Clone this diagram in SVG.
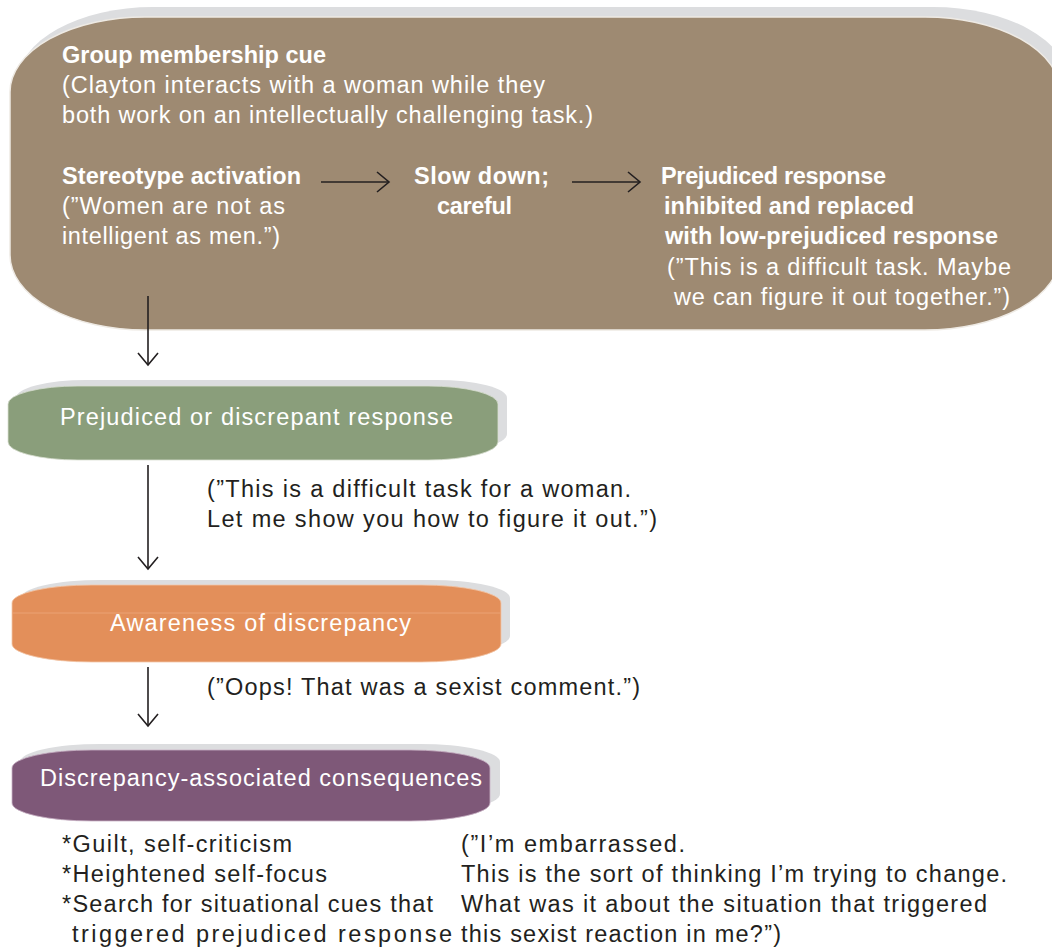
<svg xmlns="http://www.w3.org/2000/svg" width="1052" height="947" viewBox="0 0 1052 947">
<defs>
<marker id="arr" markerUnits="userSpaceOnUse" markerWidth="16" markerHeight="24" refX="13" refY="11" orient="auto" viewBox="0 0 16 24">
<path d="M1,1 L13,11 L1,21" fill="none" stroke="#231f20" stroke-width="1.6"/>
</marker>
<style>
.sh{fill:#dcdddf}
.t{font-family:"Liberation Sans",Arial,sans-serif;font-size:23.5px}
.w{fill:#ffffff}
.k{fill:#231f20}
.b{font-weight:bold}
.c{stroke:#231f20;stroke-width:1.6;fill:none;marker-end:url(#arr)}
</style>
</defs>
<rect width="1052" height="947" fill="#ffffff"/>

<g id="cue-box">
<rect class="sh" x="18" y="7" width="1050" height="313" rx="135" ry="75"/>
<rect x="10" y="17" width="1050" height="313" rx="135" ry="75" fill="#9e8a72" stroke="#eeeae4" stroke-width="1.5"/>
<text class="t w b" x="62" y="63" textLength="264" lengthAdjust="spacing">Group membership cue</text>
<text class="t w" x="62" y="93" textLength="483" lengthAdjust="spacing">(Clayton interacts with a woman while they</text>
<text class="t w" x="62" y="123" textLength="531" lengthAdjust="spacing">both work on an intellectually challenging task.)</text>
</g>

<g id="stereotype">
<text class="t w b" x="62" y="184" textLength="239" lengthAdjust="spacing">Stereotype activation</text>
<text class="t w" x="62" y="214" textLength="223" lengthAdjust="spacing">(”Women are not as</text>
<text class="t w" x="62" y="244" textLength="218" lengthAdjust="spacing">intelligent as men.”)</text>
</g>

<g id="slow-down">
<text class="t w b" x="414" y="184" textLength="135" lengthAdjust="spacing">Slow down;</text>
<text class="t w b" x="437" y="214" textLength="75" lengthAdjust="spacing">careful</text>
</g>

<g id="low-prejudiced">
<text class="t w b" x="661" y="184" textLength="225" lengthAdjust="spacing">Prejudiced response</text>
<text class="t w b" x="664" y="214" textLength="250" lengthAdjust="spacing">inhibited and replaced</text>
<text class="t w b" x="665" y="244" textLength="333" lengthAdjust="spacing">with low-prejudiced response</text>
<text class="t w" x="667" y="275" textLength="344" lengthAdjust="spacing">(”This is a difficult task. Maybe</text>
<text class="t w" x="674" y="305" textLength="336" lengthAdjust="spacing">we can figure it out together.”)</text>
</g>

<g id="discrepant-response">
<rect class="sh" x="16" y="380" width="491" height="72" rx="70" ry="18"/>
<rect x="8" y="386" width="490" height="74" rx="70" ry="18" fill="#8a9e7b" stroke="#d9e0d2" stroke-width="0.8"/>
<text class="t w" x="60" y="425" textLength="393" lengthAdjust="spacing">Prejudiced or discrepant response</text>
</g>
<g id="discrepant-quote">
<text class="t k" x="207" y="497" textLength="424" lengthAdjust="spacing">(”This is a difficult task for a woman.</text>
<text class="t k" x="207" y="527" textLength="450" lengthAdjust="spacing">Let me show you how to figure it out.”)</text>
</g>

<g id="awareness">
<rect class="sh" x="21" y="580" width="489" height="74" rx="80" ry="18"/>
<rect x="12" y="585" width="489" height="77" rx="80" ry="18" fill="#e38f5a" stroke="#f3c7a8" stroke-width="0.8"/>
<line x1="12" y1="613" x2="501" y2="613" stroke="#eea77c" stroke-width="0.8"/>
<text class="t w" x="110" y="631" textLength="301" lengthAdjust="spacing">Awareness of discrepancy</text>
</g>
<g id="awareness-quote">
<text class="t k" x="207" y="695" textLength="433" lengthAdjust="spacing">(”Oops! That was a sexist comment.”)</text>
</g>

<g id="consequences">
<rect class="sh" x="20" y="744" width="480" height="68" rx="80" ry="18"/>
<rect x="12" y="750" width="478" height="71" rx="80" ry="18" fill="#7e5878" stroke="#c9b3c5" stroke-width="0.8"/>
<text class="t w" x="40" y="786" textLength="442" lengthAdjust="spacing">Discrepancy-associated consequences</text>
</g>
<g id="consequence-list">
<text class="t k" x="62" y="852" textLength="230" lengthAdjust="spacing">*Guilt, self-criticism</text>
<text class="t k" x="62" y="882" textLength="265" lengthAdjust="spacing">*Heightened self-focus</text>
<text class="t k" x="62" y="912" textLength="371" lengthAdjust="spacing">*Search for situational cues that</text>
<text class="t k" x="72" y="942" textLength="380" lengthAdjust="spacing">triggered prejudiced response</text>
</g>
<g id="consequence-quote">
<text class="t k" x="461" y="852" textLength="224" lengthAdjust="spacing">(”I’m embarrassed.</text>
<text class="t k" x="461" y="882" textLength="546" lengthAdjust="spacing">This is the sort of thinking I’m trying to change.</text>
<text class="t k" x="461" y="912" textLength="526" lengthAdjust="spacing">What was it about the situation that triggered</text>
<text class="t k" x="461" y="942" textLength="320" lengthAdjust="spacing">this sexist reaction in me?”)</text>
</g>

<g id="connectors">
<line class="c" x1="321" y1="182" x2="389" y2="182"/>
<line class="c" x1="572" y1="182" x2="640" y2="182"/>
<line class="c" x1="148" y1="296" x2="148" y2="365"/>
<line class="c" x1="148" y1="465" x2="148" y2="569"/>
<line class="c" x1="148" y1="667" x2="148" y2="726"/>
</g>
</svg>
